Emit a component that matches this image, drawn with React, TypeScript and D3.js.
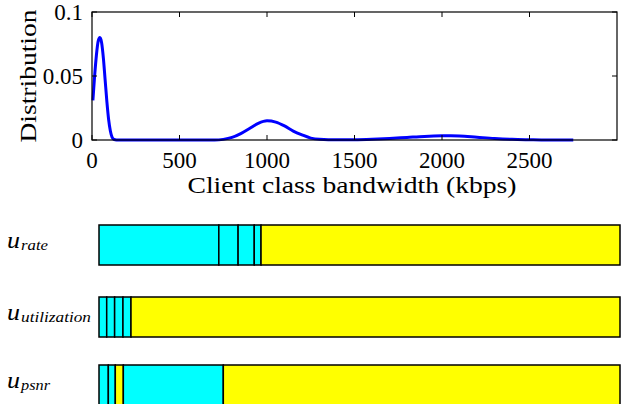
import React from "react";
import * as d3 from "d3";

// Bandwidth distribution of client classes (kbps -> density)
const bandwidth = [5, 15, 25, 35, 45, 55, 65, 75, 85, 95, 105, 115, 125, 140, 300, 500, 700, 750, 800, 850, 900, 950, 1000, 1050, 1100, 1150, 1200, 1250, 1300, 1400, 1500, 1600, 1700, 1800, 1900, 2000, 2050, 2100, 2200, 2300, 2400, 2500, 2600, 2750];
const density = [0.031, 0.05, 0.066, 0.077, 0.08, 0.076, 0.064, 0.047, 0.03, 0.016, 0.007, 0.002, 0.0005, 0, 0, 0, 0, 0.0005, 0.002, 0.005, 0.009, 0.013, 0.015, 0.014, 0.011, 0.007, 0.004, 0.0015, 0.0005, 0.0001, 0.0002, 0.0006, 0.0012, 0.002, 0.0028, 0.0033, 0.0034, 0.0032, 0.0022, 0.0012, 0.0005, 0.0002, 0, 0];

const xTicks = [0, 500, 1000, 1500, 2000, 2500];
const yTicks = [0, 0.05, 0.1];
const yTickLabels = ["0", "0.05", "0.1"];

// Utility rankings: cumulative segment boundaries (fraction of bar) and fill class
const utilityNames = ["rate", "utilization", "psnr"];
const rateBounds = [0, 0.23, 0.267, 0.298, 0.311, 1];
const rateFills = ["c", "c", "c", "c", "y"];
const utilizationBounds = [0, 0.0148, 0.030, 0.046, 0.0614, 1];
const utilizationFills = ["c", "c", "c", "c", "y"];
const psnrBounds = [0, 0.0179, 0.0313, 0.0467, 0.2386, 1];
const psnrFills = ["c", "c", "y", "c", "y"];

const W = 621;
const H = 404;
const serif = "'Liberation Serif', 'Times New Roman', serif";

export default function App() {
  const x = d3.scaleLinear().domain([0, 3000]).range([92, 617]);
  const y = d3.scaleLinear().domain([0, 0.1]).range([140, 12]);
  const line = d3
    .line<number>()
    .x((_, i) => x(bandwidth[i]))
    .y((d) => y(d))
    .curve(d3.curveMonotoneX);

  const bx = d3.scaleLinear().domain([0, 1]).range([99, 620]);
  const rows = [
    { name: utilityNames[0], bounds: rateBounds, fills: rateFills, top: 225, subW: 27 },
    { name: utilityNames[1], bounds: utilizationBounds, fills: utilizationFills, top: 297, subW: 70 },
    { name: utilityNames[2], bounds: psnrBounds, fills: psnrFills, top: 365, subW: 29 },
  ];
  const fillColor = (f: string) => (f === "c" ? "#00ffff" : "#ffff00");
  const barH = 40;

  return (
    <svg
      width={W}
      height={H}
      style={{ position: "absolute", left: 0, top: 0, background: "#fff" }}
      fontFamily={serif}
    >
      {/* distribution plot */}
      <path d={line(density) || ""} fill="none" stroke="#0000ff" strokeWidth={3} strokeLinejoin="round" />
      <rect x={92} y={12} width={525} height={128} fill="none" stroke="#000" strokeWidth={1.2} />
      {xTicks.map((t) => (
        <g key={"x" + t}>
          <line x1={x(t)} x2={x(t)} y1={140} y2={135} stroke="#000" />
          <line x1={x(t)} x2={x(t)} y1={12} y2={17} stroke="#000" />
          <text x={x(t)} y={168} fontSize={23} textAnchor="middle">
            {t}
          </text>
        </g>
      ))}
      {yTicks.map((t, i) => (
        <g key={"y" + t}>
          <line x1={92} x2={97} y1={y(t)} y2={y(t)} stroke="#000" />
          <line x1={617} x2={612} y1={y(t)} y2={y(t)} stroke="#000" />
          <text x={83} y={y(t) + 8} fontSize={23} textAnchor="end">
            {yTickLabels[i]}
          </text>
        </g>
      ))}
      <text x={352} y={193} fontSize={23} textAnchor="middle" textLength={329} lengthAdjust="spacingAndGlyphs">
        Client class bandwidth (kbps)
      </text>
      <text
        transform="translate(36,76) rotate(-90)"
        fontSize={23}
        textAnchor="middle"
        textLength={133}
        lengthAdjust="spacingAndGlyphs"
      >
        Distribution
      </text>

      {/* utility bars */}
      {rows.map((r) => (
        <g key={r.name} fontStyle="italic">
          <text x={7} y={r.top + 23} fontSize={24} textLength={13} lengthAdjust="spacingAndGlyphs">
            u
          </text>
          <text
            x={21}
            y={r.top + 25}
            fontSize={15}
            textLength={r.subW}
            lengthAdjust="spacingAndGlyphs"
          >
            {r.name}
          </text>
          {r.fills.map((f, i) => (
            <rect
              key={i}
              x={bx(r.bounds[i])}
              y={r.top}
              width={bx(r.bounds[i + 1]) - bx(r.bounds[i])}
              height={barH}
              fill={fillColor(f)}
              stroke="#000"
              strokeWidth={1.5}
            />
          ))}
        </g>
      ))}
    </svg>
  );
}
